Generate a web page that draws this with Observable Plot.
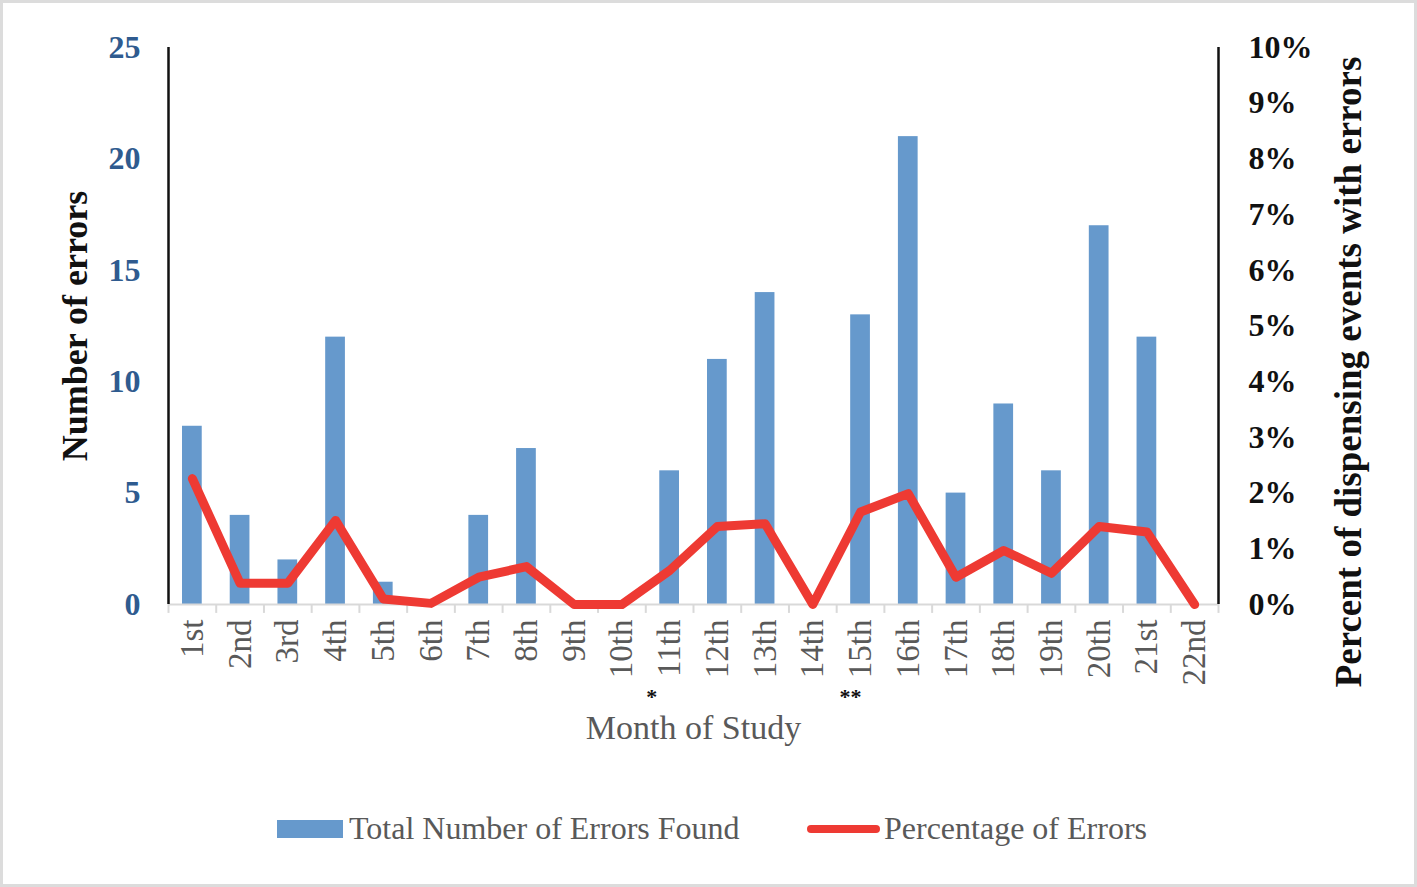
<!DOCTYPE html>
<html>
<head>
<meta charset="utf-8">
<script src="https://cdn.jsdelivr.net/npm/d3@7"></script>
<script src="https://cdn.jsdelivr.net/npm/@observablehq/plot@0.6"></script>
<style>
  html, body { margin: 0; padding: 0; background: white; }
  #wrap { position: relative; width: 1417px; height: 887px; overflow: hidden; background: white; }
  #frame { position: absolute; left: 0; top: 0; width: 1417px; height: 887px; box-sizing: border-box; border: 3px solid #dcdcdc; pointer-events: none; }
  #legend { position: absolute; left: 0; top: 770px; width: 1417px; height: 117px; font-family: "Liberation Serif", serif; font-size: 32px; color: #595959; }
  .item { position: absolute; top: 0; height: 117px; display: flex; align-items: center; }
  .sw-bar { width: 66px; height: 18px; background: #6699CC; margin-right: 6px; }
  .sw-line { width: 73px; height: 8px; background: #EE3A33; border-radius: 4px; margin-right: 4px; }
</style>
</head>
<body>
<div id="wrap">
  <div id="chart"></div>
  <div id="legend">
    <div class="item" style="left:277px; top:0px;"><div class="sw-bar"></div><span>Total Number of Errors Found</span></div>
    <div class="item" style="left:807px; top:0px;"><div class="sw-line"></div><span>Percentage of Errors</span></div>
  </div>
  <div id="frame"></div>
</div>
<script>
const months = ["1st","2nd","3rd","4th","5th","6th","7th","8th","9th","10th","11th","12th","13th","14th","15th","16th","17th","18th","19th","20th","21st","22nd"];
const errors = [8,4,2,12,1,0,4,7,0,0,6,11,14,0,13,21,5,9,6,17,12,0];
const percent = [2.26,0.38,0.38,1.51,0.10,0.02,0.49,0.68,0,0,0.61,1.40,1.45,0,1.66,1.99,0.49,0.97,0.56,1.40,1.30,0];
const leftTicks = [0,5,10,15,20,25];
const rightTicks = [0,1,2,3,4,5,6,7,8,9,10];
const stars = [{month:"11th", label:"*"},{month:"15th", label:"**"}];

const data = months.map((m,i) => ({month:m, errors:errors[i], pct:percent[i]}));
const ratio = 25/10; // right axis 10% maps to left axis 25

const W = 1417, H = 770, mL = 168, mR = 199, mT = 47, mB = 166;
const bw = (W - mL - mR) / months.length;

const chart = Plot.plot({
  width: W, height: H,
  marginTop: mT, marginLeft: mL, marginRight: mR, marginBottom: mB,
  style: {fontFamily: "Liberation Serif", background: "white", overflow: "visible"},
  x: {type: "band", domain: months, padding: 0, round: false},
  y: {domain: [0, 25]},
  marks: [
    Plot.barY(data, {x: "month", y: "errors", fill: "#6699CC", insetLeft: 14, insetRight: 14}),
    Plot.ruleY([0], {stroke: "#d9d9d9", strokeWidth: 2}),
    Plot.ruleX(months, {x: d => d, y1: 0, y2: -0.4, dx: -bw/2, stroke: "#d9d9d9", strokeWidth: 2}),
    Plot.ruleX([months[months.length-1]], {x: d => d, y1: 0, y2: -0.4, dx: bw/2, stroke: "#d9d9d9", strokeWidth: 2}),
    Plot.line(data, {x: "month", y: d => d.pct * ratio, stroke: "#EE3A33", strokeWidth: 9, strokeLinejoin: "round"}),
    Plot.ruleX([months[0]], {x: d => d, y1: 0, y2: 25, dx: -bw/2, stroke: "#111", strokeWidth: 2.5}),
    Plot.ruleX([months[months.length-1]], {x: d => d, y1: 0, y2: 25, dx: bw/2, stroke: "#111", strokeWidth: 2.5}),
    Plot.axisY(leftTicks, {anchor: "left", tickSize: 0, tickPadding: 28, fontSize: 32, fontWeight: "bold", fill: "#2F5B8F", label: null}),
    Plot.axisY(rightTicks.map(d => d * ratio), {anchor: "right", tickSize: 0, tickPadding: 30, fontSize: 32, fontWeight: "bold", fill: "#111", tickFormat: d => Math.round(d / ratio) + "%", label: null}),
    Plot.axisX({tickRotate: -90, tickSize: 0, tickPadding: 15, fontSize: 33, fill: "#595959", label: null}),
    Plot.text(["Number of errors"], {frameAnchor: "left", dx: -93, rotate: -90, textAnchor: "middle", lineAnchor: "middle", fontSize: 36, fontWeight: "bold", fill: "#111"}),
    Plot.text(["Percent of dispensing events with errors"], {frameAnchor: "right", dx: 131, dy: 46, rotate: -90, textAnchor: "middle", lineAnchor: "middle", fontSize: 37, fontWeight: "bold", fill: "#111"}),
    Plot.text([stars[0]], {x: "month", text: "label", frameAnchor: "bottom", dy: 92, dx: -18, textAnchor: "middle", lineAnchor: "middle", fontSize: 22, fontWeight: "bold", fill: "#111"}),
    Plot.text([stars[1]], {x: "month", text: "label", frameAnchor: "bottom", dy: 92, dx: -10, textAnchor: "middle", lineAnchor: "middle", fontSize: 22, fontWeight: "bold", fill: "#111"}),
    Plot.text(["Month of Study"], {frameAnchor: "bottom", dy: 124, textAnchor: "middle", lineAnchor: "middle", fontSize: 34, fill: "#595959"})
  ]
});
document.getElementById("chart").appendChild(chart);
</script>
</body>
</html>
